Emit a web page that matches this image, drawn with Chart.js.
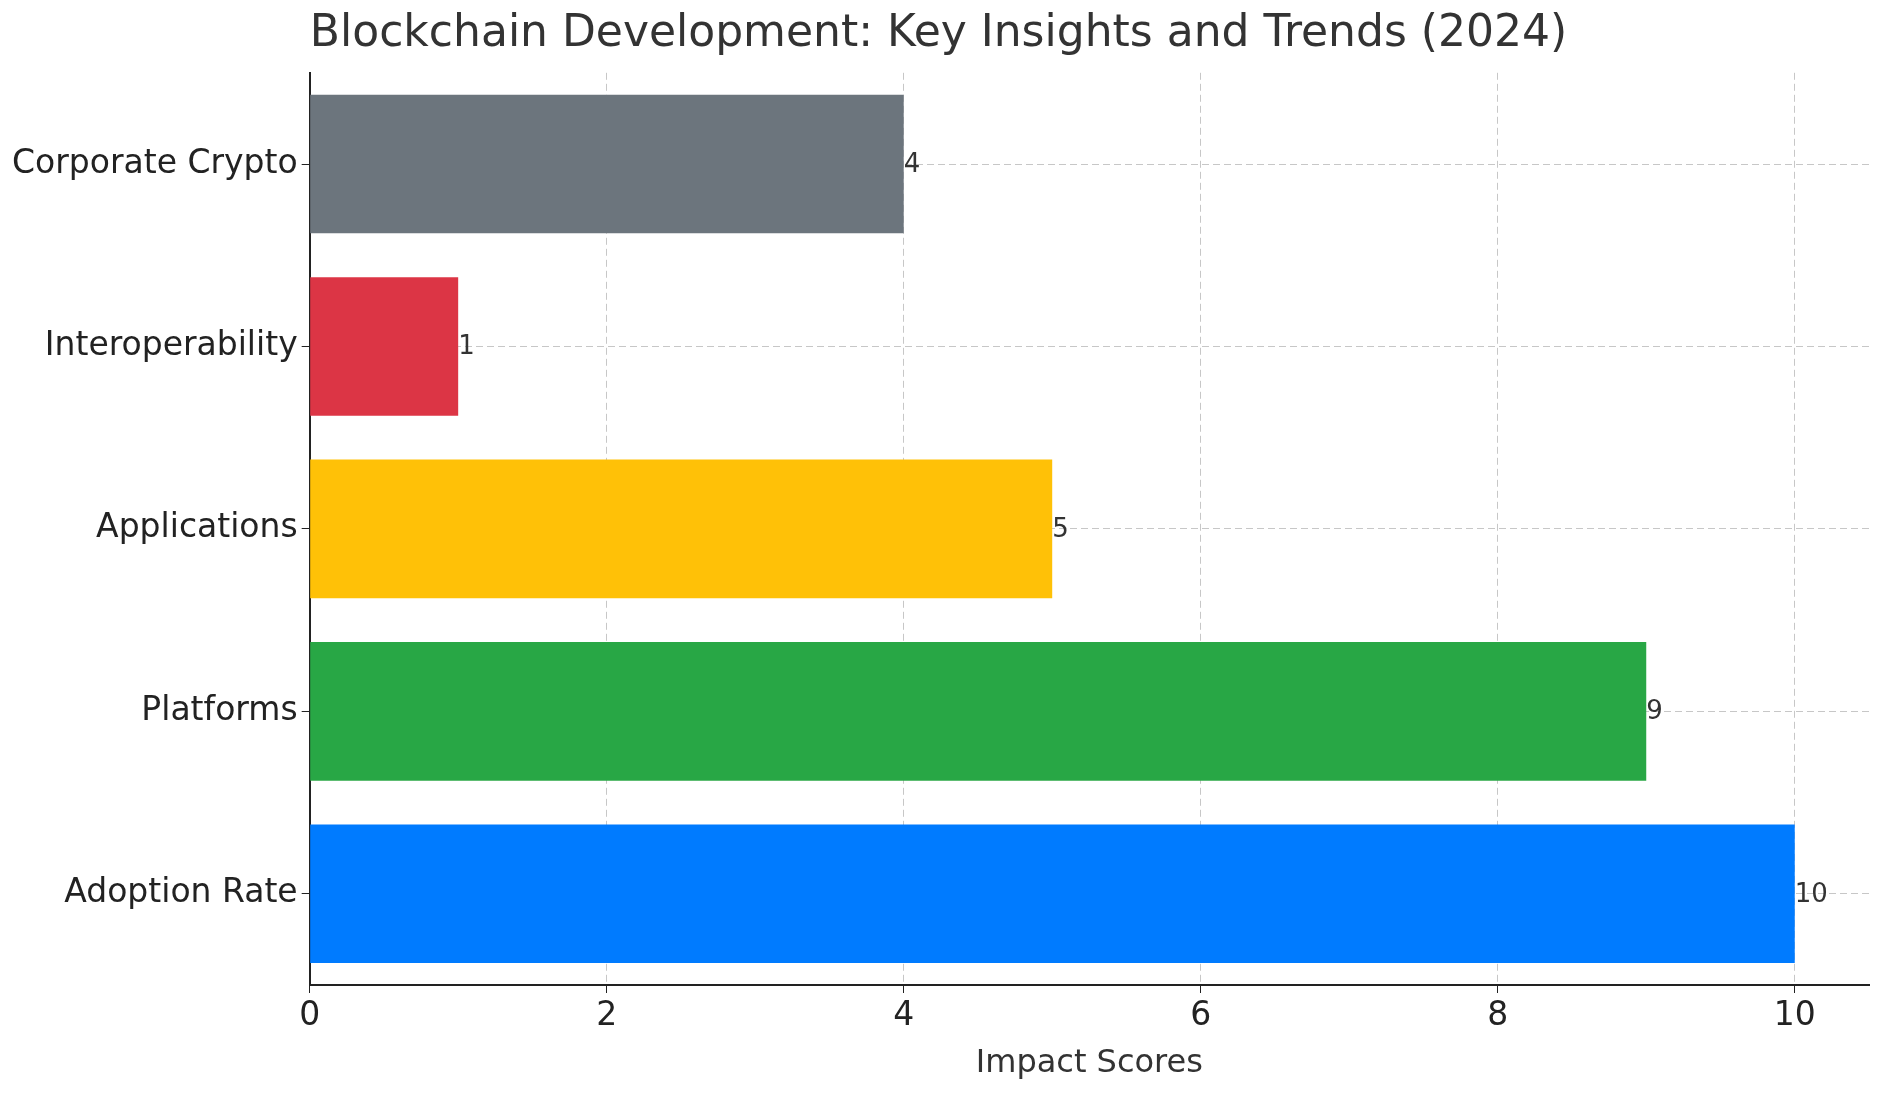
<!DOCTYPE html>
<html>
<head>
<meta charset="utf-8">
<script src="https://cdn.jsdelivr.net/npm/chart.js@4"></script>
<style>
  html, body { margin: 0; padding: 0; background: #fff; }
  #wrap { width: 1888px; height: 1101px; }
</style>
</head>
<body>
<div id="wrap"><canvas id="chart"></canvas></div>
<script>
// Chart data
const categories = ["Corporate Crypto", "Interoperability", "Applications", "Platforms", "Adoption Rate"];
const scores = [4, 1, 5, 9, 10];
const barColors = ["#6c757d", "#dc3545", "#ffc107", "#28a745", "#007bff"];
const xTicks = [0, 2, 4, 6, 8, 10];

const FONT = "'DejaVu Sans', sans-serif";

// write each score just right of its bar
const valueLabels = {
  id: "valueLabels",
  afterDatasetsDraw(chart) {
    const ctx = chart.ctx;
    const meta = chart.getDatasetMeta(0);
    ctx.save();
    ctx.font = "26px " + FONT;
    ctx.fillStyle = "#333";
    ctx.textBaseline = "bottom";
    meta.data.forEach((bar, i) => {
      ctx.fillText(String(scores[i]), bar.x, bar.y + 14);
    });
    ctx.restore();
  }
};

new Chart(document.getElementById("chart"), {
  type: "bar",
  data: {
    labels: categories,
    datasets: [{
      data: scores,
      backgroundColor: barColors,
      barPercentage: 0.76,
      categoryPercentage: 1.0
    }]
  },
  options: {
    indexAxis: "y",
    responsive: true,
    maintainAspectRatio: false,
    animation: false,
    layout: { padding: { left: 8, right: 19, top: 2, bottom: 14 } },
    plugins: {
      legend: { display: false },
      tooltip: { enabled: false },
      title: {
        display: true,
        text: "Blockchain Development: Key Insights and Trends (2024)",
        color: "#333",
        font: { family: FONT, size: 44, weight: "normal" },
        padding: { top: 6, bottom: 12 }
      }
    },
    scales: {
      x: {
        min: 0,
        max: 10.5,
        afterBuildTicks(axis) { axis.ticks = xTicks.map(v => ({ value: v })); },
        grid: {
          color: "rgba(0,0,0,0.22)",
          tickLength: 8,
          tickColor: "#222"
        },
        border: { display: true, color: "#222", width: 2, dash: [7, 4] },
        ticks: { color: "#222", font: { family: FONT, size: 33 }, padding: 4 },
        title: {
          display: true,
          text: "Impact Scores",
          color: "#333",
          font: { family: FONT, size: 32 },
          padding: { top: 4 }
        }
      },
      y: {
        grid: {
          offset: false,
          color: "rgba(0,0,0,0.22)",
          tickLength: 8,
          tickColor: "#222"
        },
        border: { display: true, color: "#222", width: 2, dash: [7, 4] },
        ticks: { color: "#222", font: { family: FONT, size: 33 }, padding: 4 }
      }
    }
  },
  plugins: [valueLabels]
});
</script>
</body>
</html>
